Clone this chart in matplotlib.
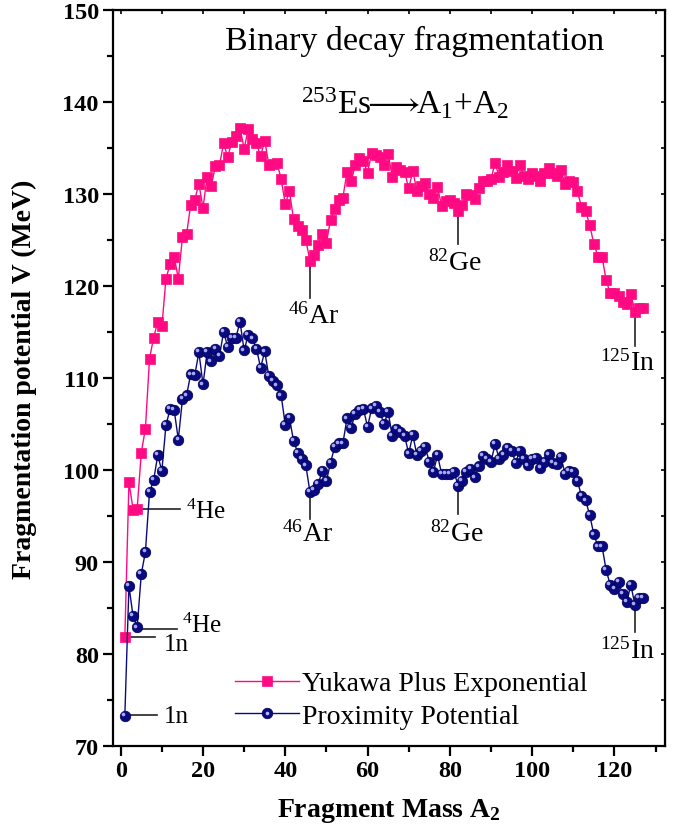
import numpy as np
import matplotlib
matplotlib.use("Agg")
import matplotlib.pyplot as plt
from matplotlib.transforms import ScaledTranslation
from matplotlib.legend_handler import HandlerTuple

plt.rcParams['font.family'] = ['Liberation Serif', 'DejaVu Serif']
plt.rcParams['mathtext.fontset'] = 'custom'
plt.rcParams['mathtext.rm'] = 'Liberation Serif'
plt.rcParams['mathtext.it'] = 'Liberation Serif:italic'
plt.rcParams['mathtext.bf'] = 'Liberation Serif:bold'

# ---------------- data ----------------
mass_a2 = list(range(1, 128))

yukawa = [81.8, 98.7, 95.7, 95.8, 101.9, 104.5, 112.1, 114.4, 116.1, 115.6,
          120.8, 122.4, 123.2, 120.8, 125.3, 125.6, 128.8, 129.4, 131.1, 128.5,
          131.9, 130.9, 133.0, 133.1, 135.5, 134.0, 135.7, 136.3, 137.2, 134.9,
          137.1, 136.0, 135.5, 134.1, 135.8, 133.2, 133.3, 133.4, 131.6, 128.9,
          130.3, 127.3, 126.5, 126.1, 125.0, 122.7, 123.4, 124.5, 125.7, 124.7,
          127.2, 128.4, 129.3, 129.6, 132.4, 131.4, 133.1, 133.9, 133.6, 132.3,
          134.5, 134.2, 134.0, 133.2, 134.4, 131.9, 132.9, 132.6, 132.4, 130.6,
          132.5, 130.3, 130.9, 131.2, 130.0, 129.6, 130.8, 128.7, 129.2, 129.3,
          129.0, 128.2, 128.8, 130.0, 129.9, 129.5, 130.7, 131.4, 131.4, 131.6,
          133.4, 131.8, 132.4, 133.1, 132.5, 131.7, 133.1, 132.0, 131.6, 132.3,
          132.0, 131.4, 132.3, 132.8, 132.3, 132.0, 132.6, 131.1, 131.4, 131.3,
          130.3, 128.6, 128.2, 126.6, 124.6, 123.2, 123.2, 120.6, 119.2, 119.2,
          118.9, 118.3, 118.0, 119.1, 117.2, 117.6, 117.6]

proximity = [73.3, 87.4, 84.1, 82.9, 88.7, 91.1, 97.6, 98.9, 101.6, 99.9,
             104.9, 106.6, 106.5, 103.3, 107.7, 108.1, 110.4, 110.3, 112.8, 109.3,
             112.8, 111.8, 113.2, 112.4, 115.0, 113.4, 114.4, 114.4, 116.1, 113.0,
             114.7, 114.3, 113.2, 111.1, 112.9, 110.2, 109.7, 109.2, 108.1, 104.9,
             105.7, 103.2, 101.9, 101.2, 100.5, 97.6, 97.8, 98.5, 99.9, 98.8,
             100.8, 102.5, 102.9, 102.9, 105.6, 104.6, 106.1, 106.5, 106.6, 104.7,
             106.7, 107.0, 106.3, 105.0, 106.3, 103.7, 104.5, 104.1, 103.7, 101.8,
             103.8, 101.6, 102.1, 102.5, 100.9, 99.8, 101.6, 99.6, 99.6, 99.6,
             99.8, 98.3, 98.8, 99.8, 100.1, 99.2, 100.4, 101.5, 101.2, 100.9,
             102.8, 101.2, 101.6, 102.4, 102.1, 100.8, 102.1, 101.2, 100.5, 101.2,
             101.3, 100.2, 100.9, 101.7, 100.8, 100.6, 101.4, 99.6, 99.9, 99.8,
             98.8, 97.2, 96.7, 95.1, 93.0, 91.7, 91.7, 89.1, 87.5, 87.1,
             87.8, 86.5, 85.7, 87.5, 85.3, 86.1, 86.1]

series_labels = ["Yukawa Plus Exponential", "Proximity Potential"]
x_ticks = [0, 20, 40, 60, 80, 100, 120]
y_ticks = [70, 80, 90, 100, 110, 120, 130, 140, 150]

# ---------------- figure ----------------
W, H = 685, 837
fig = plt.figure(figsize=(W / 100, H / 100), dpi=100)
ax = fig.add_axes([112.7 / W, 1 - 747 / H, (665 - 112.7) / W, (747 - 11) / H])

pink = '#FF0A82'
navy = '#0A0A80'

ln1, = ax.plot(mass_a2, yukawa, color=pink, lw=1.0, marker='s', ms=6.6,
               mfc=pink, mec=pink, mew=0.5, zorder=3)
ln2, = ax.plot(mass_a2, proximity, color=navy, lw=1.0, marker='o', ms=7.6,
               mfc=navy, mec='#000050', mew=0.5, zorder=3)
off = ax.transData + ScaledTranslation(-1.3 / 72, 1.3 / 72, fig.dpi_scale_trans)
hl, = ax.plot(mass_a2, proximity, ls='none', marker='o', ms=2.6, mfc='#b8bcff',
              mec='none', alpha=0.9, transform=off, zorder=4)
hl_leg, = ax.plot([], [], ls='none', marker='o', ms=2.6, mfc='#b8bcff', mec='none')

ax.set_xlim(-1.95, 132.3)
ax.set_ylim(70, 150)
ax.set_xticks(x_ticks)
ax.set_yticks(y_ticks)
ax.set_xticks(np.arange(10, 131, 20), minor=True)
ax.set_yticks(np.arange(75, 150, 10), minor=True)

for sp in ax.spines.values():
    sp.set_linewidth(1.6)

ax.tick_params(which='major', direction='out', length=7, width=1.6,
               labelsize=17.5, pad=3)
ax.tick_params(which='minor', direction='out', length=4.5, width=1.6)
for lab in ax.get_xticklabels() + ax.get_yticklabels():
    lab.set_fontweight('bold')

# top & right short inward ticks
secx = ax.secondary_xaxis('top')
secx.set_xticks(x_ticks)
secx.set_xticks(np.arange(10, 131, 20), minor=True)
secx.tick_params(which='both', direction='in', length=3, width=1.2, labeltop=False)
secy = ax.secondary_yaxis('right')
secy.set_yticks(y_ticks)
secy.set_yticks(np.arange(75, 150, 10), minor=True)
secy.tick_params(which='both', direction='in', length=3, width=1.2, labelright=False)

ax.set_ylabel('Fragmentation potential V (MeV)', fontsize=20, fontweight='bold')
ax.yaxis.set_label_coords(-0.137, 0.5)
ax.set_xlabel(r'Fragment Mass A$_\mathbf{2}$', fontsize=20, fontweight='bold')
ax.xaxis.set_label_coords(0.5, -0.068)

# titles inside
ax.text(71.5, 145.8, 'Binary decay fragmentation', fontsize=24.5, ha='center', va='baseline')
ax.text(69, 138.8,
        r'$^{253}\mathrm{Es}\!\!{\longrightarrow}\!\!\mathrm{A}_1\mathrm{+A}_2$',
        fontsize=24, ha='center', va='baseline')

# annotations
lc = '#222222'
def vlead(x, y0, y1):
    ax.plot([x, x], [y0, y1], color=lc, lw=1.2, zorder=2)
def hlead(y, x0, x1):
    ax.plot([x0, x1], [y, y], color=lc, lw=1.2, zorder=2)

vlead(46, 122.3, 118.7)
ax.text(47, 118.2, r'$^{46}$Ar', fontsize=20, ha='center', va='top')
vlead(82, 127.8, 124.6)
ax.text(81.3, 124.0, r'$^{82}$Ge', fontsize=20, ha='center', va='top')
vlead(125, 116.8, 113.5)
ax.text(123.2, 113.1, r'$^{125}$In', fontsize=20, ha='center', va='top')

vlead(46, 97.2, 94.7)
ax.text(45.4, 94.6, r'$^{46}$Ar', fontsize=20, ha='center', va='top')
vlead(82, 97.9, 95.2)
ax.text(81.8, 94.6, r'$^{82}$Ge', fontsize=20, ha='center', va='top')
vlead(125, 84.9, 82.4)
ax.text(123.2, 81.8, r'$^{125}$In', fontsize=20, ha='center', va='top')

hlead(95.8, 4, 14.4)
ax.text(15.9, 94.75, r'$^{4}$He', fontsize=18, ha='left', va='baseline')
hlead(82.7, 4, 13.6)
ax.text(14.8, 82.4, r'$^{4}$He', fontsize=18, ha='left', va='baseline')
hlead(81.8, 1, 8.3)
ax.text(10.4, 80.4, '1n', fontsize=18, ha='left', va='baseline')
hlead(73.4, 1, 8.8)
ax.text(10.4, 72.6, '1n', fontsize=18, ha='left', va='baseline')

ax.legend([ln1, (ln2, hl_leg)], series_labels, loc='upper left',
          bbox_to_anchor=(235 / W, 1 - 672 / H), bbox_transform=fig.transFigure,
          frameon=False, fontsize=20, handlelength=2.3, handletextpad=0.1,
          borderpad=0, borderaxespad=0, labelspacing=0.25,
          handler_map={tuple: HandlerTuple(ndivide=1, pad=0)})

fig.savefig('out.png', dpi=100)
